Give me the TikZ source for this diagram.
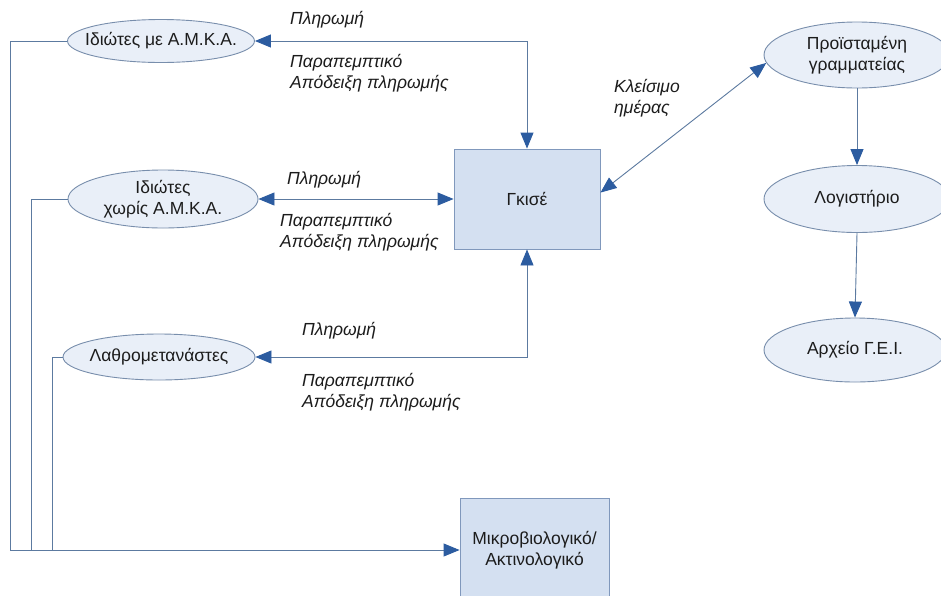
\documentclass[tikz,border=0pt]{standalone}
\usepackage{fontspec}
\setmainfont{Liberation Sans}
\usetikzlibrary{arrows.meta,shapes.geometric}
\definecolor{linec}{RGB}{92,122,160}
\definecolor{tipc}{RGB}{44,92,160}
\definecolor{ellfill}{RGB}{233,239,248}
\definecolor{ellline}{RGB}{120,142,172}
\definecolor{boxfill}{RGB}{212,224,241}
\definecolor{boxline}{RGB}{128,152,188}
\definecolor{txt}{RGB}{28,28,28}

\begin{document}
\begin{tikzpicture}[x=1pt,y=-1pt,
  txtstyle/.style={font=\fontsize{17.5}{21}\selectfont, text=txt, align=center, inner sep=0pt},
  oval/.style={ellipse, draw=ellline, fill=ellfill, line width=0.9pt, inner sep=0pt},
  unit/.style={rectangle, draw=boxline, fill=boxfill, line width=0.9pt, inner sep=0pt,
    font=\fontsize{17.5}{21}\selectfont, text=txt, align=center},
  lbl/.style={font=\fontsize{17.5}{21}\selectfont\itshape, text=txt, inner sep=0pt,
    anchor=west, align=left},
  wire/.style={draw=linec, line width=0.9pt},
  flow/.style={wire, -{Triangle[length=16pt,width=13pt,color=tipc]}},
  both/.style={wire, {Triangle[length=16pt,width=13pt,color=tipc]}-{Triangle[length=16pt,width=13pt,color=tipc]}}]

% page frame
\useasboundingbox (0,0) rectangle (941,595);
\fill[white] (0,0) rectangle (941,595);
\clip (0,0) rectangle (941,595);

% patient groups
\node[oval, minimum width=187pt, minimum height=43pt,
  label={[txtstyle]center:Ιδιώτες με Α.Μ.Κ.Α.}] (amka) at (161,41) {};
\node[oval, minimum width=190pt, minimum height=58pt,
  label={[txtstyle]center:Ιδιώτες\\χωρίς Α.Μ.Κ.Α.}] (noamka) at (163,199) {};
\node[oval, minimum width=192pt, minimum height=46pt,
  label={[txtstyle]center:Λαθρομετανάστες}] (migr) at (159,357) {};

% service points
\node[unit, minimum width=146pt, minimum height=100pt] (desk) at (527,199) {Γκισέ};
\node[unit, minimum width=149pt, minimum height=104pt] (lab) at (534.5,550)
  {Μικροβιολογικό/\\Ακτινολογικό};

% administration chain
\node[oval, minimum width=186pt, minimum height=66pt,
  label={[txtstyle]center:Προϊσταμένη\\γραμματείας}] (head) at (857,55) {};
\node[oval, minimum width=186pt, minimum height=67pt,
  label={[txtstyle]center:Λογιστήριο}] (acct) at (857,199) {};
\node[oval, minimum width=182pt, minimum height=64pt,
  label={[txtstyle]center:Αρχείο Γ.Ε.Ι.}] (arch) at (855,350) {};

% collector columns on the left
\coordinate (col1) at (10,0);
\coordinate (col2) at (31,0);
\coordinate (col3) at (52,0);

\draw[flow] (amka.west) -| (col1 |- lab.west) -- (lab.west);
\draw[wire] (noamka.west) -| (col2 |- lab.west);
\draw[wire] (migr.west) -| (col3 |- lab.west);

% payment / referral exchanges
\draw[both] (amka.east) -| (desk.north);
\draw[both] (noamka.east) -- (desk.west);
\draw[both] (migr.east) -| (desk.south);

% day closing and archiving
\draw[both] (desk.5) -- (head.185);
\draw[flow] (head.south) -- (acct.north);
\draw[flow] (acct.south) -- (arch.north);

% connector labels
\node[lbl] (pay1) at (290,20) {Πληρωμή};
\node[lbl] (ref1) at (290,73) {Παραπεμπτικό\\Απόδειξη πληρωμής};
\node[lbl] (pay2) at (287,180) {Πληρωμή};
\node[lbl] (ref2) at (280,232) {Παραπεμπτικό\\Απόδειξη πληρωμής};
\node[lbl] (pay3) at (302,331) {Πληρωμή};
\node[lbl] (ref3) at (302,392) {Παραπεμπτικό\\Απόδειξη πληρωμής};
\node[lbl] (close) at (614,98) {Κλείσιμο\\ημέρας};
\end{tikzpicture}
\end{document}
